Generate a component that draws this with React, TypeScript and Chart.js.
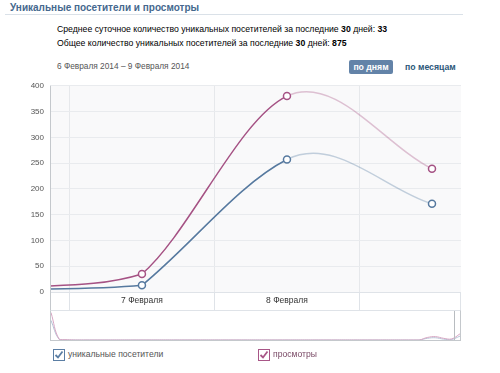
import React, { useEffect, useRef } from "react";
import { Chart, registerables } from "chart.js";

Chart.register(...registerables);

// ---- data ----
const days = [6, 7, 8, 9];
const dayLabels = ["6 Февраля", "7 Февраля", "8 Февраля", "9 Февраля"];
const uniqueVisitors = [4, 13, 257, 171];
const pageViews = [6, 35, 380, 239];
const yTickValues = [0, 50, 100, 150, 200, 250, 300, 350, 400];
const dayBoundaries = [6.5, 7.5, 8.5];

// navigator (overview) series
const navUnique = [70, 2, 0, 0, 0, 0, 0, 0, 0, 0, 0, 0, 0, 0, 0, 0, 0, 0, 0, 0, 0, 0, 0, 0, 0, 0, 0, 0, 0, 0, 0, 0, 0, 0, 0, 0, 0, 0, 0, 0, 0, 0, 0, 0, 0, 0, 6, 8, 3, 2, 14];
const navViews = [98, 3, 1, 0, 0, 0, 0, 0, 0, 0, 0, 0, 0, 0, 0, 0, 0, 0, 0, 0, 0, 0, 0, 0, 0, 0, 0, 0, 0, 0, 0, 0, 0, 0, 0, 0, 0, 0, 0, 0, 0, 0, 0, 0, 0, 0, 9, 12, 6, 4, 22];

const BLUE = "#56799f";
const PINK = "#a55284";
const BLUE_FADE = "rgba(89,125,163,0.35)";
const PINK_FADE = "rgba(168,86,135,0.35)";
const FONT = "'Liberation Sans', Arial, sans-serif";
// curve stiffness per dataset (views, unique)
const TANGENT_SCALE = [1.3, 1.8];

export default function App() {
  const mainRef = useRef<HTMLCanvasElement>(null);
  const navRef = useRef<HTMLCanvasElement>(null);

  useEffect(() => {
    const bgPlugin = {
      id: "bgband",
      beforeDraw(chart: any) {
        const { ctx, chartArea } = chart;
        ctx.save();
        ctx.fillStyle = "#f9f9fa";
        ctx.fillRect(chartArea.left, chartArea.top, chartArea.right - chartArea.left, chartArea.bottom - chartArea.top);
        ctx.restore();
      },
      afterDraw(chart: any) {
        const { ctx, chartArea } = chart;
        const xs = chart.scales.x;
        const h = chart.height;
        ctx.save();
        ctx.strokeStyle = "#dfe3e8";
        ctx.lineWidth = 1;
        for (const b of dayBoundaries) {
          const px = Math.round(xs.getPixelForValue(b)) + 0.5;
          ctx.beginPath();
          ctx.moveTo(px, chartArea.bottom);
          ctx.lineTo(px, h);
          ctx.stroke();
        }
        ctx.beginPath();
        ctx.moveTo(chartArea.left, chartArea.bottom + 0.5);
        ctx.lineTo(chartArea.right, chartArea.bottom + 0.5);
        ctx.stroke();
        ctx.beginPath();
        ctx.moveTo(chartArea.right - 0.5, chartArea.bottom);
        ctx.lineTo(chartArea.right - 0.5, h);
        ctx.stroke();
        ctx.strokeStyle = "#c4c8cc";
        ctx.beginPath();
        ctx.moveTo(chartArea.left + 0.5, chartArea.top);
        ctx.lineTo(chartArea.left + 0.5, h);
        ctx.stroke();
        ctx.restore();
      },
    };

    // uniform Hermite spline control points; incoming arm never overshoots the previous point
    const splinePlugin = {
      id: "splinecp",
      beforeDatasetDraw(chart: any, args: any) {
        const meta = args.meta;
        const line = meta.dataset;
        if (!line || !line.updateControlPoints) return;
        line.updateControlPoints(chart.chartArea, meta.iScale ? meta.iScale.axis : "x");
        const k = TANGENT_SCALE[args.index] ?? 1;
        const pts = meta.data;
        const n = pts.length;
        for (let i = 0; i < n; i++) {
          const p = pts[i];
          const prev = pts[i - 1];
          const next = pts[i + 1];
          let m: number;
          if (prev && next) m = (k * (next.y - prev.y)) / (next.x - prev.x);
          else if (next) m = (next.y - p.y) / (next.x - p.x);
          else m = (p.y - prev.y) / (p.x - prev.x);
          if (prev) {
            const h = p.x - prev.x;
            p.cp1x = p.x - h / 3;
            let cy = p.y - (m * h) / 3;
            const lo = Math.min(p.y, prev.y);
            const hi = Math.max(p.y, prev.y);
            if (cy < lo) cy = lo;
            else if (cy > hi) cy = hi;
            p.cp1y = cy;
          } else {
            p.cp1x = p.x;
            p.cp1y = p.y;
          }
          if (next) {
            const h = next.x - p.x;
            p.cp2x = p.x + h / 3;
            p.cp2y = p.y + (m * h) / 3;
          } else {
            p.cp2x = p.x;
            p.cp2y = p.y;
          }
        }
      },
    };

    const fadeAfter = (faded: string, solid: string) => (ctx: any) =>
      ctx.p0.parsed.x >= 8 ? faded : solid;

    const main = new Chart(mainRef.current!, {
      type: "line",
      data: {
        datasets: [
          {
            label: "просмотры",
            data: days.map((d, i) => ({ x: d, y: pageViews[i] })),
            borderColor: PINK,
            pointBorderColor: PINK,
            pointBackgroundColor: "#ffffff",
            borderWidth: 1.5,
            pointRadius: 3.5,
            pointBorderWidth: 1.5,
            tension: 0.4,
            segment: { borderColor: fadeAfter(PINK_FADE, PINK) },
          },
          {
            label: "уникальные посетители",
            data: days.map((d, i) => ({ x: d, y: uniqueVisitors[i] })),
            borderColor: BLUE,
            pointBorderColor: BLUE,
            pointBackgroundColor: "#ffffff",
            borderWidth: 1.5,
            pointRadius: 3.5,
            pointBorderWidth: 1.5,
            tension: 0.4,
            segment: { borderColor: fadeAfter(BLUE_FADE, BLUE) },
          },
        ],
      },
      options: {
        animation: false,
        responsive: false,
        maintainAspectRatio: false,
        layout: { padding: { top: 8, right: 9, left: 0, bottom: 0 } },
        plugins: { legend: { display: false }, tooltip: { enabled: false } },
        scales: {
          x: {
            type: "linear",
            min: 6.366,
            max: 9.2,
            afterBuildTicks: (scale: any) => {
              scale.ticks = [6.5, 7, 7.5, 8, 8.5].map((v) => ({ value: v }));
            },
            afterFit: (scale: any) => {
              scale.height = 18;
            },
            grid: {
              color: (c: any) => (Number.isInteger(c.tick?.value) ? "rgba(0,0,0,0)" : "#e6e8eb"),
              drawTicks: false,
            },
            border: { display: false },
            ticks: {
              autoSkip: false,
              maxRotation: 0,
              padding: 4,
              color: "#333",
              font: { family: FONT, size: 8.5 },
              callback: (v: any) => {
                const i = days.indexOf(Number(v));
                return i >= 0 ? dayLabels[i] : "";
              },
            },
          },
          y: {
            min: 0,
            max: 400,
            afterBuildTicks: (scale: any) => {
              scale.ticks = yTickValues.map((v) => ({ value: v }));
            },
            afterFit: (scale: any) => {
              scale.width = 50;
            },
            grid: { color: "#e9ebee", drawTicks: false },
            border: { display: false },
            ticks: {
              padding: 6,
              color: "#555",
              font: { family: FONT, size: 8 },
            },
          },
        },
      },
      plugins: [bgPlugin, splinePlugin],
    });

    const nav = new Chart(navRef.current!, {
      type: "line",
      data: {
        labels: navViews.map((_, i) => i),
        datasets: [
          { data: navViews, borderColor: "#d7a6c3", borderWidth: 1, pointRadius: 0, tension: 0.4 },
          { data: navUnique, borderColor: "#b5c4d6", borderWidth: 1, pointRadius: 0, tension: 0.4 },
        ],
      },
      options: {
        animation: false,
        responsive: false,
        maintainAspectRatio: false,
        layout: { padding: 0 },
        plugins: { legend: { display: false }, tooltip: { enabled: false } },
        scales: {
          x: { display: false },
          y: { display: false, min: 0, max: 100 },
        },
      },
    });

    return () => {
      main.destroy();
      nav.destroy();
    };
  }, []);

  const text: React.CSSProperties = { position: "absolute", fontFamily: FONT, fontSize: 8.7, whiteSpace: "nowrap", lineHeight: "13px" };

  const Check = ({ color }: { color: string }) => (
    <svg width="12" height="12" style={{ position: "absolute", left: 0, top: 0 }}>
      <rect x="0.5" y="0.5" width="11" height="11" fill="#fff" stroke={color} strokeWidth="1" />
      <path d="M2.5 6 L5 8.5 L9.5 2.5" fill="none" stroke={color} strokeWidth="1.8" />
    </svg>
  );

  return (
    <div style={{ position: "fixed", left: 0, top: 0, width: 500, height: 373, background: "#fff", overflow: "hidden" }}>
      <div style={{ ...text, left: 10, top: 1, fontSize: 10, fontWeight: "bold", color: "#45688e" }}>Уникальные посетители и просмотры</div>
      <div style={{ position: "absolute", left: 5, top: 14, width: 458, height: 1, background: "#dae1e8" }} />
      <div style={{ ...text, left: 57, top: 23, color: "#000" }}>
        Среднее суточное количество уникальных посетителей за последние <b>30</b> дней: <b>33</b>
      </div>
      <div style={{ ...text, left: 57, top: 36.5, color: "#000" }}>
        Общее количество уникальных посетителей за последние <b>30</b> дней: <b>875</b>
      </div>
      <div style={{ ...text, left: 57, top: 59.5, fontSize: 8.3, color: "#555" }}>6 Февраля 2014 – 9 Февраля 2014</div>
      <div style={{ position: "absolute", left: 349, top: 60, width: 44, height: 14, background: "#6383a8", borderRadius: 2 }} />
      <div style={{ ...text, left: 349, top: 60, width: 44, textAlign: "center", color: "#fff", fontWeight: "bold", lineHeight: "14px" }}>по дням</div>
      <div style={{ ...text, left: 405, top: 60, color: "#2b587a", fontWeight: "bold", lineHeight: "14px" }}>по месяцам</div>

      <canvas ref={mainRef} width={470} height={235} style={{ position: "absolute", left: 0, top: 75, width: 470, height: 235 }} />

      <div style={{ position: "absolute", left: 50, top: 310, width: 411, height: 31, boxSizing: "border-box", borderLeft: "1px solid #c4c8cc", borderRight: "1px solid #c4c8cc", borderBottom: "1px solid #c4c8cc", borderTop: "1px solid #dfe3e8" }}>
        <canvas ref={navRef} width={409} height={28} style={{ position: "absolute", left: 0, top: 1, width: 409, height: 28 }} />
        <div style={{ position: "absolute", left: 403, top: 0, width: 6, height: 29, boxSizing: "border-box", borderLeft: "1px solid #b8bcc0" }} />
      </div>

      <div style={{ position: "absolute", left: 53, top: 349, width: 12, height: 12 }}>
        <Check color="#5b7ea4" />
      </div>
      <div style={{ ...text, left: 68, top: 348, fontSize: 8.6, color: "#555" }}>уникальные посетители</div>
      <div style={{ position: "absolute", left: 258, top: 349, width: 12, height: 12 }}>
        <Check color="#a85687" />
      </div>
      <div style={{ ...text, left: 273, top: 348, fontSize: 8.6, color: "#7a4a66" }}>просмотры</div>
    </div>
  );
}
